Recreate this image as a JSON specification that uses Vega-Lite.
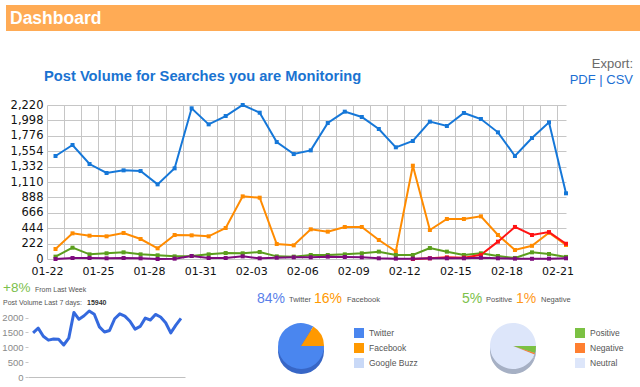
{
  "$schema": "https://vega.github.io/schema/vega-lite/v6.json",
  "padding": {"left": 0, "top": 5, "right": 0, "bottom": 0},
  "background": "white",
  "config": {"view": {"stroke": null}, "font": "Liberation Sans"},
  "datasets": {
    "posts": [
      {"date":"2010-01-22","series":"Search 1","posts":1485},{"date":"2010-01-23","series":"Search 1","posts":1643},{"date":"2010-01-24","series":"Search 1","posts":1369},{"date":"2010-01-25","series":"Search 1","posts":1240},{"date":"2010-01-26","series":"Search 1","posts":1278},{"date":"2010-01-27","series":"Search 1","posts":1268},{"date":"2010-01-28","series":"Search 1","posts":1076},{"date":"2010-01-29","series":"Search 1","posts":1307},{"date":"2010-01-30","series":"Search 1","posts":2172},{"date":"2010-01-31","series":"Search 1","posts":1941},{"date":"2010-02-01","series":"Search 1","posts":2061},{"date":"2010-02-02","series":"Search 1","posts":2220},{"date":"2010-02-03","series":"Search 1","posts":2109},{"date":"2010-02-04","series":"Search 1","posts":1686},{"date":"2010-02-05","series":"Search 1","posts":1513},{"date":"2010-02-06","series":"Search 1","posts":1566},{"date":"2010-02-07","series":"Search 1","posts":1960},{"date":"2010-02-08","series":"Search 1","posts":2124},{"date":"2010-02-09","series":"Search 1","posts":2047},{"date":"2010-02-10","series":"Search 1","posts":1874},{"date":"2010-02-11","series":"Search 1","posts":1610},{"date":"2010-02-12","series":"Search 1","posts":1701},{"date":"2010-02-13","series":"Search 1","posts":1980},{"date":"2010-02-14","series":"Search 1","posts":1917},{"date":"2010-02-15","series":"Search 1","posts":2105},{"date":"2010-02-16","series":"Search 1","posts":2018},{"date":"2010-02-17","series":"Search 1","posts":1826},{"date":"2010-02-18","series":"Search 1","posts":1485},{"date":"2010-02-19","series":"Search 1","posts":1744},{"date":"2010-02-20","series":"Search 1","posts":1970},{"date":"2010-02-21","series":"Search 1","posts":947},
      {"date":"2010-01-22","series":"Search 2","posts":144},{"date":"2010-01-23","series":"Search 2","posts":370},{"date":"2010-01-24","series":"Search 2","posts":336},{"date":"2010-01-25","series":"Search 2","posts":327},{"date":"2010-01-26","series":"Search 2","posts":375},{"date":"2010-01-27","series":"Search 2","posts":288},{"date":"2010-01-28","series":"Search 2","posts":154},{"date":"2010-01-29","series":"Search 2","posts":346},{"date":"2010-01-30","series":"Search 2","posts":341},{"date":"2010-01-31","series":"Search 2","posts":327},{"date":"2010-02-01","series":"Search 2","posts":447},{"date":"2010-02-02","series":"Search 2","posts":903},{"date":"2010-02-03","series":"Search 2","posts":884},{"date":"2010-02-04","series":"Search 2","posts":216},{"date":"2010-02-05","series":"Search 2","posts":197},{"date":"2010-02-06","series":"Search 2","posts":428},{"date":"2010-02-07","series":"Search 2","posts":394},{"date":"2010-02-08","series":"Search 2","posts":461},{"date":"2010-02-09","series":"Search 2","posts":461},{"date":"2010-02-10","series":"Search 2","posts":274},{"date":"2010-02-11","series":"Search 2","posts":110},{"date":"2010-02-12","series":"Search 2","posts":1345},{"date":"2010-02-13","series":"Search 2","posts":418},{"date":"2010-02-14","series":"Search 2","posts":577},{"date":"2010-02-15","series":"Search 2","posts":577},{"date":"2010-02-16","series":"Search 2","posts":615},{"date":"2010-02-17","series":"Search 2","posts":346},{"date":"2010-02-18","series":"Search 2","posts":130},{"date":"2010-02-19","series":"Search 2","posts":190},{"date":"2010-02-20","series":"Search 2","posts":378},{"date":"2010-02-21","series":"Search 2","posts":202},
      {"date":"2010-01-22","series":"Search 3","posts":34},{"date":"2010-01-23","series":"Search 3","posts":163},{"date":"2010-01-24","series":"Search 3","posts":67},{"date":"2010-01-25","series":"Search 3","posts":82},{"date":"2010-01-26","series":"Search 3","posts":96},{"date":"2010-01-27","series":"Search 3","posts":67},{"date":"2010-01-28","series":"Search 3","posts":53},{"date":"2010-01-29","series":"Search 3","posts":38},{"date":"2010-01-30","series":"Search 3","posts":43},{"date":"2010-01-31","series":"Search 3","posts":67},{"date":"2010-02-01","series":"Search 3","posts":86},{"date":"2010-02-02","series":"Search 3","posts":82},{"date":"2010-02-03","series":"Search 3","posts":101},{"date":"2010-02-04","series":"Search 3","posts":38},{"date":"2010-02-05","series":"Search 3","posts":34},{"date":"2010-02-06","series":"Search 3","posts":58},{"date":"2010-02-07","series":"Search 3","posts":58},{"date":"2010-02-08","series":"Search 3","posts":67},{"date":"2010-02-09","series":"Search 3","posts":82},{"date":"2010-02-10","series":"Search 3","posts":106},{"date":"2010-02-11","series":"Search 3","posts":58},{"date":"2010-02-12","series":"Search 3","posts":58},{"date":"2010-02-13","series":"Search 3","posts":158},{"date":"2010-02-14","series":"Search 3","posts":106},{"date":"2010-02-15","series":"Search 3","posts":58},{"date":"2010-02-16","series":"Search 3","posts":82},{"date":"2010-02-17","series":"Search 3","posts":43},{"date":"2010-02-18","series":"Search 3","posts":15},{"date":"2010-02-19","series":"Search 3","posts":96},{"date":"2010-02-20","series":"Search 3","posts":72},{"date":"2010-02-21","series":"Search 3","posts":30},
      {"date":"2010-02-12","series":"Search 4","posts":0},{"date":"2010-02-13","series":"Search 4","posts":10},{"date":"2010-02-14","series":"Search 4","posts":24},{"date":"2010-02-15","series":"Search 4","posts":19},{"date":"2010-02-16","series":"Search 4","posts":60},{"date":"2010-02-17","series":"Search 4","posts":250},{"date":"2010-02-18","series":"Search 4","posts":462},{"date":"2010-02-19","series":"Search 4","posts":346},{"date":"2010-02-20","series":"Search 4","posts":388},{"date":"2010-02-21","series":"Search 4","posts":220},
      {"date":"2010-01-22","series":"Search 5","posts":0},{"date":"2010-01-23","series":"Search 5","posts":14},{"date":"2010-01-24","series":"Search 5","posts":14},{"date":"2010-01-25","series":"Search 5","posts":10},{"date":"2010-01-26","series":"Search 5","posts":14},{"date":"2010-01-27","series":"Search 5","posts":10},{"date":"2010-01-28","series":"Search 5","posts":0},{"date":"2010-01-29","series":"Search 5","posts":5},{"date":"2010-01-30","series":"Search 5","posts":43},{"date":"2010-01-31","series":"Search 5","posts":14},{"date":"2010-02-01","series":"Search 5","posts":14},{"date":"2010-02-02","series":"Search 5","posts":38},{"date":"2010-02-03","series":"Search 5","posts":10},{"date":"2010-02-04","series":"Search 5","posts":19},{"date":"2010-02-05","series":"Search 5","posts":24},{"date":"2010-02-06","series":"Search 5","posts":24},{"date":"2010-02-07","series":"Search 5","posts":34},{"date":"2010-02-08","series":"Search 5","posts":29},{"date":"2010-02-09","series":"Search 5","posts":24},{"date":"2010-02-10","series":"Search 5","posts":10},{"date":"2010-02-11","series":"Search 5","posts":5},{"date":"2010-02-12","series":"Search 5","posts":5},{"date":"2010-02-13","series":"Search 5","posts":10},{"date":"2010-02-14","series":"Search 5","posts":10},{"date":"2010-02-15","series":"Search 5","posts":10},{"date":"2010-02-16","series":"Search 5","posts":19},{"date":"2010-02-17","series":"Search 5","posts":10},{"date":"2010-02-18","series":"Search 5","posts":5},{"date":"2010-02-19","series":"Search 5","posts":3},{"date":"2010-02-20","series":"Search 5","posts":5},{"date":"2010-02-21","series":"Search 5","posts":10}
    ]
  },
  "bounds": "flush",
  "spacing": 100,
  "resolve": {"scale": {"color": "independent"}, "legend": {"color": "independent"}},
  "vconcat": [
    {
      "bounds": "flush",
      "spacing": 0,
      "hconcat": [
        {"width": 6, "height": 26, "data": {"values": []}, "mark": "point"},
        {
          "width": 634, "height": 26,
          "view": {"fill": "#ffab55"},
          "data": {"values": [{"t": "Dashboard"}]},
          "mark": {"type": "text", "align": "left", "baseline": "alphabetic", "color": "#ffffff", "fontSize": 17.5, "font": "Liberation Sans", "fontWeight": "bold"},
          "encoding": {"text": {"field": "t"}, "x": {"value": 4}, "y": {"value": 19}}
        }
      ]
    },
    {
      "bounds": "flush",
      "spacing": 206,
      "resolve": {"scale": {"color": "independent"}, "legend": {"color": "independent"}},
      "vconcat": [
        {
          "bounds": "flush",
          "spacing": 0,
          "hconcat": [
            {"width": 47, "height": 1, "data": {"values": []}, "mark": "point"},
            {
              "width": 519, "height": 154,
              "title": {"text": "Post Volume for Searches you are Monitoring", "anchor": "start", "frame": "group", "dx": -3, "offset": 3, "baseline": "alphabetic", "fontSize": 14.7, "font": "Liberation Sans", "fontWeight": "bold", "color": "#1a73d1"},
              "data": {"name": "posts"},
              "mark": {"type": "line", "strokeWidth": 2, "point": {"shape": "square", "size": 16, "filled": true}},
              "encoding": {
                "x": {
                  "field": "date", "type": "temporal", "timeUnit": "utcyearmonthdate", "bandPosition": 0.5,
                  "scale": {"domain": [{"year": 2010, "month": 1, "date": 22, "utc": true}, {"year": 2010, "month": 2, "date": 21, "hours": 12, "utc": true}]},
                  "axis": {
                    "title": null, "tickCount": {"interval": "day", "step": 1}, "grid": true, "gridColor": "#c6c6c6", "gridWidth": 1,
                    "ticks": false, "domain": false, "labelFlush": false, "labelOverlap": false, "labelBound": false,
                    "labelExpr": "(round((+datum.value - utc(2010,0,22)) / 86400000) % 3 == 0) ? utcFormat(datum.value, '%m-%d') : ''",
                    "labelFont": "DejaVu Sans", "labelFontSize": 11, "labelColor": "#111111", "labelPadding": 6
                  }
                },
                "y": {
                  "field": "posts", "type": "quantitative",
                  "scale": {"domain": [0, 2220], "nice": false},
                  "axis": {
                    "title": null, "values": [0, 222, 444, 666, 888, 1110, 1332, 1554, 1776, 1998, 2220], "format": ",d",
                    "grid": true, "gridColor": "#c6c6c6", "ticks": false, "domain": false,
                    "labelFont": "DejaVu Sans", "labelFontSize": 11.5, "labelColor": "#111111", "labelPadding": 4
                  }
                },
                "color": {
                  "field": "series", "type": "nominal",
                  "scale": {"domain": ["Search 1", "Search 2", "Search 3", "Search 4", "Search 5"], "range": ["#1577d8", "#ff8b00", "#5b9e1d", "#ff1414", "#7d0a7d"]},
                  "legend": null
                }
              }
            },
            {
              "width": 67, "height": 1,
              "title": {"text": "Export:", "subtitle": "PDF | CSV", "anchor": "end", "frame": "group", "offset": 18, "fontSize": 13, "font": "Liberation Sans", "fontWeight": "normal", "color": "#6a6a6a", "subtitleFont": "Liberation Sans", "subtitleFontSize": 13, "subtitleColor": "#1c6fd3", "subtitlePadding": 3},
              "data": {"values": []},
              "mark": "point"
            }
          ]
        },
        {
          "bounds": "flush",
          "spacing": 0,
          "resolve": {"scale": {"color": "independent", "theta": "independent"}, "legend": {"color": "independent"}},
          "hconcat": [
            {"width": 28, "height": 1, "data": {"values": []}, "mark": "point"},
            {
              "width": 157, "height": 66,
              "layer": [
                {
                  "data": {"name": "posts"},
                  "transform": [
                    {"filter": {"field": "series", "equal": "Search 1"}},
                    {"filter": {"field": "date", "lt": {"year": 2010, "month": 2, "date": 21, "utc": true}}}
                  ],
                  "mark": {"type": "line", "color": "#3469de", "strokeWidth": 3, "strokeJoin": "round"},
                  "encoding": {
                    "x": {
                      "field": "date", "type": "temporal",
                      "scale": {"domain": [{"year": 2010, "month": 1, "date": 21, "utc": true}, {"year": 2010, "month": 2, "date": 20, "hours": 19, "utc": true}]},
                      "axis": {"title": null, "labels": false, "ticks": false, "grid": false, "domainColor": "#c0c0c0", "domainWidth": 1}
                    },
                    "y": {
                      "field": "posts", "type": "quantitative",
                      "scale": {"domain": [0, 2220], "nice": false},
                      "axis": {"title": null, "values": [0, 500, 1000, 1500, 2000], "format": "d", "grid": false, "domain": false, "tickColor": "#c8c8c8", "tickSize": 3, "labelColor": "#8a8a8a", "labelFontSize": 9.5, "labelFont": "Liberation Sans", "labelPadding": 2}
                    }
                  }
                },
                {"data": {"values": [{"t": "+8%"}]}, "mark": {"type": "text", "align": "left", "baseline": "alphabetic", "fontSize": 13.5, "color": "#7cc04b"}, "encoding": {"text": {"field": "t"}, "x": {"value": -25}, "y": {"value": -19}}},
                {"data": {"values": [{"t": "From Last Week"}]}, "mark": {"type": "text", "align": "left", "baseline": "alphabetic", "fontSize": 7, "color": "#555555"}, "encoding": {"text": {"field": "t"}, "x": {"value": 7}, "y": {"value": -19}}},
                {"data": {"values": [{"t": "Post Volume Last 7 days:"}]}, "mark": {"type": "text", "align": "left", "baseline": "alphabetic", "fontSize": 7, "color": "#555555"}, "encoding": {"text": {"field": "t"}, "x": {"value": -25}, "y": {"value": -6.5}}},
                {"data": {"values": [{"t": "15940"}]}, "mark": {"type": "text", "align": "left", "baseline": "alphabetic", "fontSize": 7, "fontWeight": "bold", "color": "#333333"}, "encoding": {"text": {"field": "t"}, "x": {"value": 59}, "y": {"value": -6.5}}}
              ]
            },
            {"width": 86, "height": 1, "data": {"values": []}, "mark": "point"},
            {
              "width": 60, "height": 70,
              "layer": [
                {
                  "data": {"values": [{"source": "Twitter", "share": 84}, {"source": "Facebook", "share": 16}, {"source": "Google Buzz", "share": 0}]},
                  "transform": [{"window": [{"op": "row_number", "as": "k"}]}],
                  "mark": {"type": "arc", "outerRadius": 23, "yOffset": 5, "color": "#3766c6"},
                  "encoding": {"theta": {"field": "share", "type": "quantitative", "scale": {"range": [1.5708, 7.854]}}, "order": {"field": "k", "type": "quantitative"}}
                },
                {
                  "data": {"values": [{"source": "Twitter", "share": 84}, {"source": "Facebook", "share": 16}, {"source": "Google Buzz", "share": 0}]},
                  "transform": [{"window": [{"op": "row_number", "as": "k"}]}],
                  "mark": {"type": "arc", "outerRadius": 23},
                  "encoding": {
                    "theta": {"field": "share", "type": "quantitative", "scale": {"range": [1.5708, 7.854]}},
                    "order": {"field": "k", "type": "quantitative"},
                    "color": {
                      "field": "source", "type": "nominal",
                      "scale": {"domain": ["Twitter", "Facebook", "Google Buzz"], "range": ["#4a86ef", "#ff9900", "#c9d9f7"]},
                      "legend": {"orient": "none", "legendX": 83, "legendY": 17, "title": null, "symbolType": "square", "symbolSize": 100, "symbolStrokeWidth": 0, "labelFontSize": 8.5, "labelFont": "Liberation Sans", "labelColor": "#555555", "rowPadding": 5, "labelOffset": 5, "padding": 0}
                    }
                  }
                },
                {"data": {"values": [{"t": "84%"}]}, "mark": {"type": "text", "align": "left", "baseline": "alphabetic", "fontSize": 14, "color": "#5a7fea"}, "encoding": {"text": {"field": "t"}, "x": {"value": -14}, "y": {"value": -8.5}}},
                {"data": {"values": [{"t": "Twitter"}]}, "mark": {"type": "text", "align": "left", "baseline": "alphabetic", "fontSize": 7.5, "color": "#555555"}, "encoding": {"text": {"field": "t"}, "x": {"value": 18}, "y": {"value": -9}}},
                {"data": {"values": [{"t": "16%"}]}, "mark": {"type": "text", "align": "left", "baseline": "alphabetic", "fontSize": 14, "color": "#ff9900"}, "encoding": {"text": {"field": "t"}, "x": {"value": 43}, "y": {"value": -8.5}}},
                {"data": {"values": [{"t": "Facebook"}]}, "mark": {"type": "text", "align": "left", "baseline": "alphabetic", "fontSize": 7.5, "color": "#555555"}, "encoding": {"text": {"field": "t"}, "x": {"value": 76}, "y": {"value": -9}}}
              ]
            },
            {"width": 152, "height": 1, "data": {"values": []}, "mark": "point"},
            {
              "width": 60, "height": 70,
              "layer": [
                {
                  "data": {"values": [{"tone": "Positive", "share": 5}, {"tone": "Negative", "share": 1}, {"tone": "Neutral", "share": 94}]},
                  "transform": [{"window": [{"op": "row_number", "as": "k"}]}],
                  "mark": {"type": "arc", "outerRadius": 23, "yOffset": 5, "color": "#a6b0c4"},
                  "encoding": {"theta": {"field": "share", "type": "quantitative", "scale": {"range": [1.5708, 7.854]}}, "order": {"field": "k", "type": "quantitative"}}
                },
                {
                  "data": {"values": [{"tone": "Positive", "share": 5}, {"tone": "Negative", "share": 1}, {"tone": "Neutral", "share": 94}]},
                  "transform": [{"window": [{"op": "row_number", "as": "k"}]}],
                  "mark": {"type": "arc", "outerRadius": 23},
                  "encoding": {
                    "theta": {"field": "share", "type": "quantitative", "scale": {"range": [1.5708, 7.854]}},
                    "order": {"field": "k", "type": "quantitative"},
                    "color": {
                      "field": "tone", "type": "nominal",
                      "scale": {"domain": ["Positive", "Negative", "Neutral"], "range": ["#7bc143", "#ff7f30", "#dde6fa"]},
                      "legend": {"orient": "none", "legendX": 92, "legendY": 17, "title": null, "symbolType": "square", "symbolSize": 100, "symbolStrokeWidth": 0, "labelFontSize": 8.5, "labelFont": "Liberation Sans", "labelColor": "#555555", "rowPadding": 5, "labelOffset": 5, "padding": 0}
                    }
                  }
                },
                {"data": {"values": [{"t": "5%"}]}, "mark": {"type": "text", "align": "left", "baseline": "alphabetic", "fontSize": 14, "color": "#7dc14a"}, "encoding": {"text": {"field": "t"}, "x": {"value": -21}, "y": {"value": -8.5}}},
                {"data": {"values": [{"t": "Positive"}]}, "mark": {"type": "text", "align": "left", "baseline": "alphabetic", "fontSize": 7.5, "color": "#555555"}, "encoding": {"text": {"field": "t"}, "x": {"value": 3}, "y": {"value": -9}}},
                {"data": {"values": [{"t": "1%"}]}, "mark": {"type": "text", "align": "left", "baseline": "alphabetic", "fontSize": 14, "color": "#ff9a1a"}, "encoding": {"text": {"field": "t"}, "x": {"value": 33}, "y": {"value": -8.5}}},
                {"data": {"values": [{"t": "Negative"}]}, "mark": {"type": "text", "align": "left", "baseline": "alphabetic", "fontSize": 7.5, "color": "#555555"}, "encoding": {"text": {"field": "t"}, "x": {"value": 58}, "y": {"value": -9}}}
              ]
            }
          ]
        }
      ]
    }
  ]
}
